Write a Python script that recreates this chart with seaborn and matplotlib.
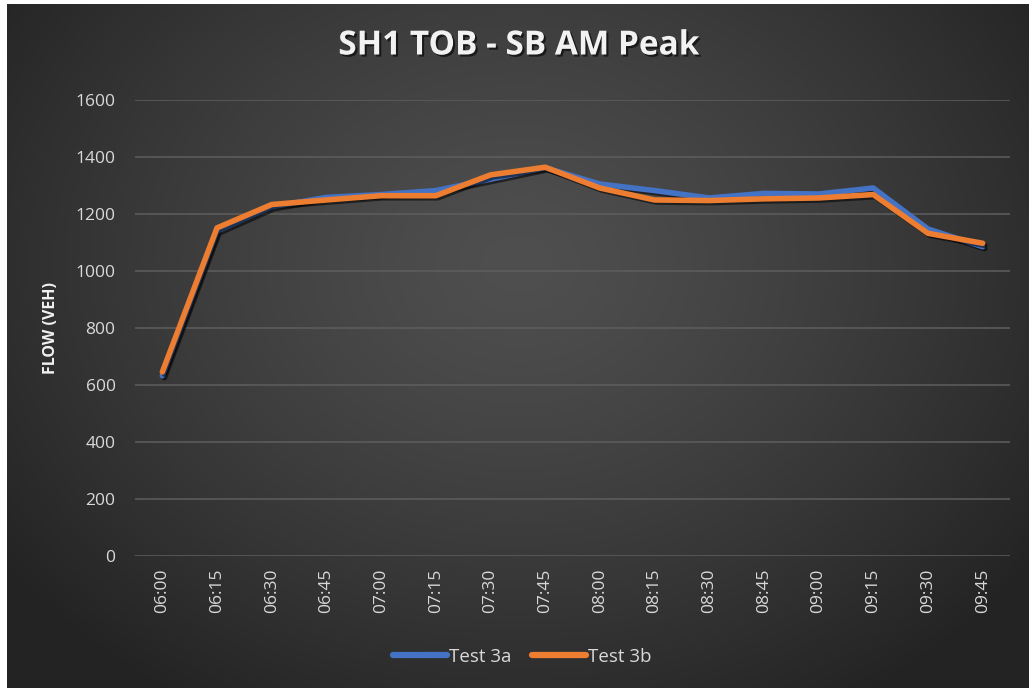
import numpy as np
import pandas as pd
import matplotlib
matplotlib.use("Agg")
import matplotlib.pyplot as plt
import matplotlib.patheffects as pe
import seaborn as sns

times = ["06:00", "06:15", "06:30", "06:45", "07:00", "07:15", "07:30", "07:45",
         "08:00", "08:15", "08:30", "08:45", "09:00", "09:15", "09:30", "09:45"]
test_3a = [632, 1140, 1225, 1258, 1268, 1282, 1322, 1362,
           1305, 1282, 1256, 1272, 1270, 1291, 1147, 1085]
test_3b = [645, 1151, 1233, 1249, 1264, 1264, 1337, 1364,
           1291, 1249, 1247, 1253, 1256, 1268, 1132, 1097]
series_names = ["Test 3a", "Test 3b"]
series_colors = ["#4472C4", "#ED7D31"]
y_ticks = [0, 200, 400, 600, 800, 1000, 1200, 1400, 1600]

df = pd.DataFrame({
    "slot": list(range(len(times))) * 2,
    "flow": test_3a + test_3b,
    "series": [series_names[0]] * len(times) + [series_names[1]] * len(times),
})

sns.set_theme(style="dark")
plt.rcParams["font.family"] = ["Open Sans", "DejaVu Sans"]

W, H = 1031, 688
fig = plt.figure(figsize=(W / 100, H / 100), dpi=100, facecolor="white")

# radial dark-grey gradient backdrop
bg = fig.add_axes([7 / W, 0, (W - 9) / W, (H - 4) / H])
bg.set_axis_off()
gx, gy = np.meshgrid(np.linspace(0, 1, 400), np.linspace(0, 1, 300))
r = np.sqrt(((gx - 0.5) / 0.62) ** 2 + ((gy - 0.62) / 0.75) ** 2)
r = np.clip(r, 0, 1)
shade = 0.31 - 0.17 * r ** 1.3
bg.imshow(np.dstack([shade, shade, shade]), extent=[0, 1, 0, 1], aspect="auto",
          origin="lower", interpolation="bicubic")
bg.set_xlim(0, 1)
bg.set_ylim(0, 1)

ax = fig.add_axes([135 / W, 1 - 555.7 / H, (1010 - 135) / W, (555.7 - 100) / H])
ax.set_facecolor("none")

sns.lineplot(data=df, x="slot", y="flow", hue="series", hue_order=series_names,
             palette=series_colors, linewidth=4.0, ax=ax, legend=False,
             solid_capstyle="round", solid_joinstyle="round")
for line in ax.get_lines():
    line.set_path_effects([pe.SimpleLineShadow(offset=(1.5, -1.5), shadow_color="black", alpha=0.55),
                           pe.Normal()])

ax.set_xlim(-0.5, len(times) - 0.5)
ax.set_ylim(0, 1600)
ax.set_yticks(y_ticks)
ax.set_yticklabels([str(v) for v in y_ticks])
ax.set_xticks(range(len(times)))
ax.set_xticklabels(times, rotation=90)
ax.tick_params(axis="both", colors="#d9d9d9", labelsize=12.5, length=0)
ax.tick_params(axis="y", pad=14)
ax.tick_params(axis="x", pad=9)
ax.grid(axis="y", color="#5e5e5e", linewidth=1.1)
ax.grid(axis="x", visible=False)
ax.set_axisbelow(True)
for s in ax.spines.values():
    s.set_visible(False)

ax.set_xlabel("")
ax.set_ylabel("FLOW (VEH)", color="#f2f2f2", fontsize=11.5, fontweight="bold", labelpad=12)

fig.text(519 / W, 1 - 46 / H, "SH1 TOB - SB AM Peak", ha="center", va="center",
         color="#f2f2f2", fontsize=24, fontweight="bold",
         path_effects=[pe.withSimplePatchShadow(offset=(1.5, -1.5), shadow_rgbFace="black", alpha=0.6)])

# legend along the bottom
handles = [plt.Line2D([0], [0], color=c, linewidth=4.5, solid_capstyle="round") for c in series_colors]
fig.legend(handles, series_names, loc="center", bbox_to_anchor=(522 / W, 1 - 657 / H),
           ncol=2, frameon=False, fontsize=13.5, labelcolor="#d9d9d9",
           handlelength=2.9, handletextpad=0.1, columnspacing=1.1)

fig.savefig("out.png", dpi=100, facecolor="white")
